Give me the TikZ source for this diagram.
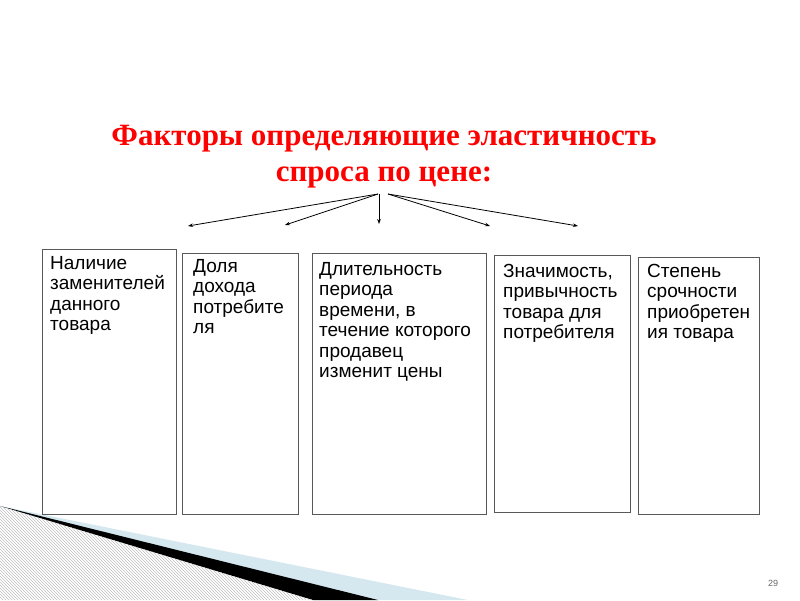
\documentclass[tikz,border=0pt]{standalone}
\usepackage{fontspec}
\setmainfont{Liberation Serif}
\setsansfont{Liberation Sans}
\usepackage{tikz}
\usetikzlibrary{arrows.meta}
\usetikzlibrary{patterns}
\usepackage{xcolor}
\definecolor{swooshblue}{RGB}{213,232,240}

\begin{document}
\begin{tikzpicture}[x = 1pt, y = -1pt,
    factorbox/.style = {draw = black!65, line width = 1.3pt, anchor = north west, inner sep = 0pt},
    factortext/.style = {anchor = base west, align = left, inner sep = 0pt, font = \sffamily\fontsize{19}{20.5}\selectfont},
    branch/.style = {line width = 0.8pt, -{Stealth[length = 5pt, width = 3.6pt]}}]

    \useasboundingbox (0,0) rectangle (800,600);

    % corner swoosh
    \fill[swooshblue] (0,506) -- (468,600) -- (315,600) -- cycle;
    \fill[black] (0,506) -- (378,600) -- (313,600) -- cycle;
    \fill[pattern = north west lines, pattern color = black!25] (0,506) -- (313,600) -- (0,600) -- cycle;

    % base anchor sits on the last line
    \node[anchor = base, align = center, text = red, font = \bfseries\fontsize{31}{36}\selectfont] (title) at (384,181) {Факторы определяющие эластичность\\спроса по цене:};

    \coordinate (hubL) at (378,194);
    \coordinate (hubM) at (379,194);
    \coordinate (hubR) at (388,194);
    \coordinate (e1) at (188,226);
    \coordinate (e2) at (285,225);
    \coordinate (e3) at (379,224);
    \coordinate (e4) at (490,226);
    \coordinate (e5) at (578,226);

    \draw[branch] (hubL) -- (e1);
    \draw[branch] (hubL) -- (e2);
    \draw[branch] (hubM) -- (e3);
    \draw[branch] (hubR) -- (e4);
    \draw[branch] (hubR) -- (e5);

    \node[factorbox, minimum width = 134pt, minimum height = 265pt] (f1) at (42,249) {};
    \node[factorbox, minimum width = 116pt, minimum height = 261pt] (f2) at (182,253) {};
    \node[factorbox, minimum width = 174pt, minimum height = 261pt] (f3) at (312,253) {};
    \node[factorbox, minimum width = 136pt, minimum height = 257pt] (f4) at (494,255) {};
    \node[factorbox, minimum width = 121pt, minimum height = 257pt] (f5) at (638,257) {};

    \node[factortext] (t1) at (50,330.5) {Наличие\\заменителей\\данного\\товара};
    \node[factortext] (t2) at (193,333.5) {Доля\\дохода\\потребите\\ля};
    \node[factortext] (t3) at (319,377.5) {Длительность\\периода\\времени, в\\течение которого\\продавец\\изменит цены};
    \node[factortext] (t4) at (503,338.5) {Значимость,\\привычность\\товара для\\потребителя};
    \node[factortext] (t5) at (647,338.5) {Степень\\срочности\\приобретен\\ия товара};

    \node[text = black!60, font = \sffamily\fontsize{9}{9}\selectfont] (pagenum) at (773,583) {29};

\end{tikzpicture}
\end{document}
